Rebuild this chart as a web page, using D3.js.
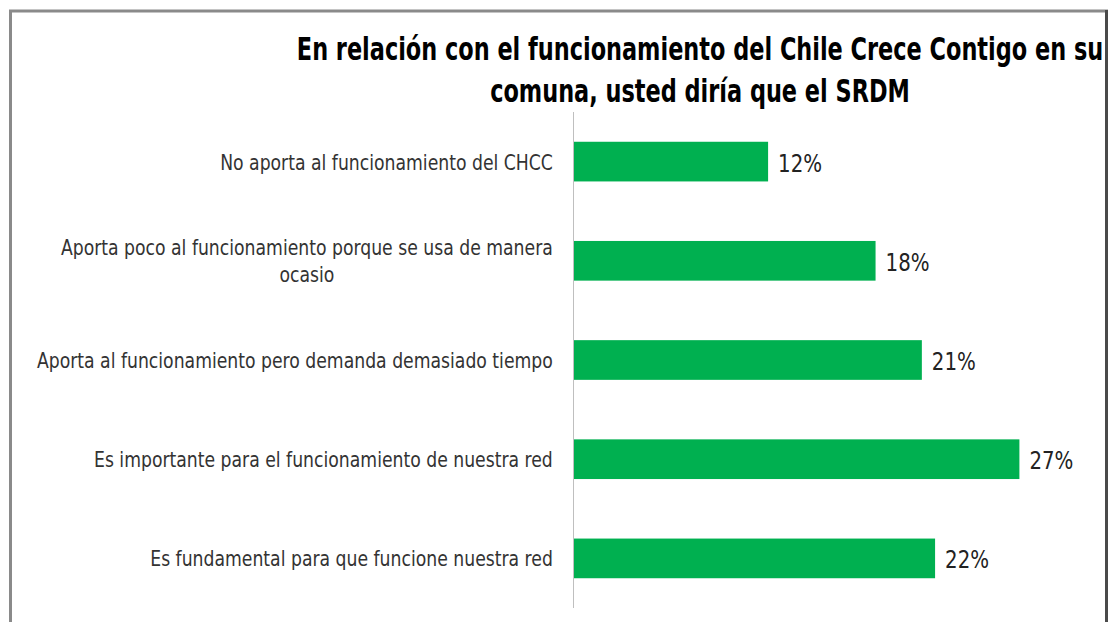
<!DOCTYPE html>
<html>
<head>
<meta charset="utf-8">
<script src="https://cdn.jsdelivr.net/npm/d3@7"></script>
<style>
  body { margin: 0; background: #fff; }
  svg { display: block; }
  text { font-family: "DejaVu Sans Condensed", "Liberation Sans Narrow", sans-serif; }
</style>
</head>
<body>
<script>
var categories = [
  'No aporta al funcionamiento del CHCC',
  'Aporta poco al funcionamiento porque se usa de manera|ocasio',
  'Aporta al funcionamiento pero demanda demasiado tiempo',
  'Es importante para el funcionamiento de nuestra red',
  'Es fundamental para que funcione nuestra red'
];
var values = [11.8, 18.3, 21.1, 27.0, 21.9];
var titleLines = [
  'En relación con el funcionamiento del Chile Crece Contigo en su',
  'comuna, usted diría que el SRDM'
];

var W = 1110, H = 622;
var svg = d3.select('body').append('svg').attr('width', W).attr('height', H);

// chart frame
svg.append('line').attr('x1', 9).attr('x2', 1108).attr('y1', 11).attr('y2', 11)
  .style('stroke', '#8a8a8a').style('stroke-width', 3);
svg.append('line').attr('x1', 10.5).attr('x2', 10.5).attr('y1', 10).attr('y2', H)
  .style('stroke', '#8a8a8a').style('stroke-width', 3);
svg.append('line').attr('x1', 1106.5).attr('x2', 1106.5).attr('y1', 10).attr('y2', H)
  .style('stroke', '#4a4a4a').style('stroke-width', 3);

var x = d3.scaleLinear().domain([0, 30]).range([573, 1069]);
var y = d3.scaleBand().domain(d3.range(categories.length)).range([112, 608])
  .paddingInner(0.6).paddingOuter(0.3);

// title, squeezed horizontally like the narrow original font
var tg = svg.append('g');
var tt = tg.selectAll('text').data(titleLines).enter().append('text')
  .attr('x', 0).attr('y', function(d, i) { return 60 + i * 42; })
  .attr('text-anchor', 'middle')
  .style('font-size', '32px').style('font-weight', 'bold').style('fill', '#000')
  .text(function(d) { return d; });
var ts = 807 / tt.node().getComputedTextLength();
tg.attr('transform', 'translate(700,0) scale(' + ts + ',1)');

// bars
svg.append('g').selectAll('rect').data(values).enter().append('rect')
  .attr('x', x(0)).attr('y', function(d, i) { return y(i); })
  .attr('width', function(d) { return x(d) - x(0); })
  .attr('height', y.bandwidth())
  .style('fill', '#00b050');

// value labels
svg.append('g').selectAll('text').data(values).enter().append('text')
  .attr('transform', function(d, i) {
    return 'translate(' + (x(d) + 10) + ',' + (y(i) + y.bandwidth() / 2 + 10) + ') scale(0.88,1)';
  })
  .style('font-size', '25px').style('fill', '#222')
  .text(function(d) { return Math.round(d) + '%'; });

// category axis
var axis = svg.append('g').attr('transform', 'translate(' + x(0) + ',0)')
  .call(d3.axisLeft(y).tickSize(0).tickFormat(''));
axis.select('.domain').style('stroke', '#bfbfbf').attr('d', 'M0.5,112V608');

var labelRight = 553;
var cs = null;
categories.forEach(function(c, i) {
  var lines = c.split('|');
  var g = svg.append('g');
  var cy = y(i) + y.bandwidth() / 2;
  var lh = 27;
  var t = g.selectAll('text').data(lines).enter().append('text')
    .attr('y', function(d, j) { return cy + 8 + (j - (lines.length - 1) / 2) * lh; })
    .style('font-size', '21px').style('fill', '#333')
    .text(function(d) { return d; });
  var maxW = d3.max(t.nodes(), function(n) { return n.getComputedTextLength(); });
  if (cs === null) cs = 333 / maxW;
  t.attr('x', -maxW / 2).attr('text-anchor', 'middle');
  g.attr('transform', 'translate(' + labelRight + ',0) scale(' + cs + ',1)');
});
</script>
</body>
</html>
